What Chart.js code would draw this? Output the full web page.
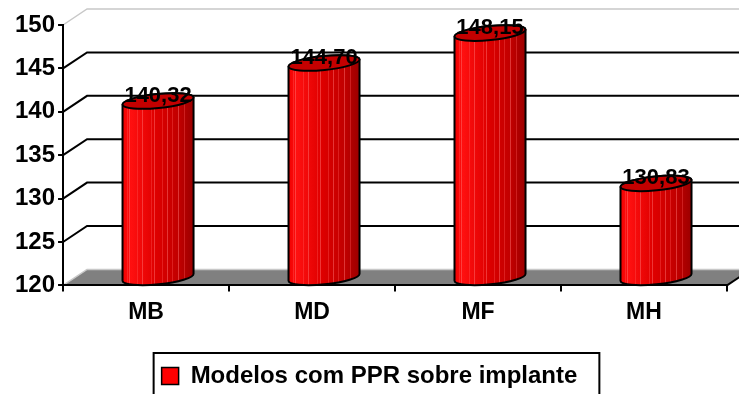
<!DOCTYPE html>
<html>
<head>
<meta charset="utf-8">
<script src="https://cdn.jsdelivr.net/npm/chart.js@4/dist/chart.umd.min.js"></script>
<style>
  html, body { margin: 0; padding: 0; background: #fff; }
  #wrap { width: 739px; height: 394px; position: relative; }
</style>
</head>
<body>
<div id="wrap"><canvas id="myChart"></canvas></div>
<script>
const categories = ['MB', 'MD', 'MF', 'MH'];
const seriesName = 'Modelos com PPR sobre implante';
const values = [140.32, 144.70, 148.15, 130.83];
const valueLabels = ['140,32', '144,70', '148,15', '130,83'];

const FONT = "'Liberation Sans', Arial, sans-serif";
const DX = 24;   // depth offset of the back wall
const DY = -16;

// back wall grid, floor and depth diagonals
const wallPlugin = {
  id: 'wall',
  beforeDraw(chart) {
    const { ctx, chartArea: a, scales } = chart;
    const y = scales.y;
    ctx.save();
    // floor
    ctx.fillStyle = '#808080';
    ctx.beginPath();
    ctx.moveTo(a.left, a.bottom);
    ctx.lineTo(a.right, a.bottom);
    ctx.lineTo(a.right + DX, a.bottom + DY);
    ctx.lineTo(a.left + DX, a.bottom + DY);
    ctx.closePath();
    ctx.fill();
    ctx.lineWidth = 2;
    ctx.strokeStyle = '#000';
    ctx.beginPath();
    ctx.moveTo(a.right, a.bottom);
    ctx.lineTo(a.right + DX, a.bottom + DY);
    ctx.stroke();

    y.ticks.forEach((t) => {
      const py = y.getPixelForValue(t.value);
      const edge = t.value === y.max || t.value === y.min;
      ctx.strokeStyle = edge ? '#c8c8c8' : '#000';
      ctx.lineWidth = edge ? 1.5 : 2;
      ctx.beginPath();
      ctx.moveTo(a.left, py);
      ctx.lineTo(a.left + DX, py + DY);
      ctx.lineTo(a.right + DX, py + DY);
      ctx.stroke();
    });
    ctx.restore();
  },
};

function cylinderPath(ctx, cx, topY, botY, rx, ry, rot) {
  const c = Math.cos(rot), s = Math.sin(rot);
  ctx.beginPath();
  ctx.moveTo(cx - rx * c, topY - rx * s);
  ctx.lineTo(cx - rx * c, botY - rx * s);
  ctx.ellipse(cx, botY, rx, ry, rot, Math.PI, 0, true);
  ctx.lineTo(cx + rx * c, topY + rx * s);
  ctx.ellipse(cx, topY, rx, ry, rot, 0, -Math.PI, true);
  ctx.closePath();
}

// red cylinders on top of the (transparent) bar elements
const cylinderPlugin = {
  id: 'cylinders',
  afterDatasetsDraw(chart) {
    const { ctx, scales } = chart;
    const meta = chart.getDatasetMeta(0);
    const basePx = scales.y.getPixelForValue(scales.y.min);
    const rot = -0.1;
    meta.data.forEach((bar, i) => {
      const cx = bar.x + DX / 2;
      const topY = bar.y + DY / 2;
      const botY = basePx + DY / 2;
      const rx = bar.width / 2;
      const ry = 7;
      ctx.save();
      const g = ctx.createLinearGradient(cx - rx, 0, cx + rx, 0);
      g.addColorStop(0, '#f00000');
      g.addColorStop(0.12, '#ff1010');
      g.addColorStop(0.45, '#e00000');
      g.addColorStop(0.8, '#c00000');
      g.addColorStop(1, '#9a0000');
      cylinderPath(ctx, cx, topY, botY, rx, ry, rot);
      ctx.fillStyle = g;
      ctx.fill();
      // vertical highlight stripes
      ctx.save();
      ctx.clip();
      const stripes = [0.06, 0.1, 0.2, 0.27, 0.4, 0.44, 0.55, 0.62, 0.7, 0.78, 0.86];
      ctx.lineWidth = 1;
      stripes.forEach((p, k) => {
        ctx.strokeStyle = k % 2 ? 'rgba(255,120,120,0.45)' : 'rgba(255,90,90,0.35)';
        const sx = Math.round(cx - rx + p * 2 * rx) + 0.5;
        ctx.beginPath();
        ctx.moveTo(sx, topY - 20);
        ctx.lineTo(sx, botY + 20);
        ctx.stroke();
      });
      ctx.restore();
      cylinderPath(ctx, cx, topY, botY, rx, ry, rot);
      ctx.lineWidth = 2;
      ctx.strokeStyle = '#000';
      ctx.stroke();
      // top cap
      ctx.beginPath();
      ctx.ellipse(cx, topY, rx, ry, rot, 0, Math.PI * 2);
      ctx.fillStyle = '#c40000';
      ctx.fill();
      ctx.stroke();
      // value label
      ctx.fillStyle = '#000';
      ctx.font = `bold 22px ${FONT}`;
      ctx.textAlign = 'center';
      ctx.textBaseline = 'alphabetic';
      ctx.fillText(valueLabels[i], cx, topY + 1);
      ctx.restore();
    });
  },
  afterDraw(chart) {
    // frame round the legend
    const lg = chart.legend;
    if (!lg || !lg.legendHitBoxes.length) return;
    const hb = lg.legendHitBoxes[0];
    const { ctx } = chart;
    ctx.save();
    ctx.strokeStyle = '#000';
    ctx.lineWidth = 2;
    ctx.strokeRect(hb.left - 8, hb.top - 11, hb.width + 30, hb.height + 40);
    ctx.restore();
  },
};

new Chart(document.getElementById('myChart').getContext('2d'), {
  type: 'bar',
  data: {
    labels: categories,
    datasets: [{
      label: seriesName,
      data: values,
      backgroundColor: 'rgba(0,0,0,0)',
      borderWidth: 0,
      barPercentage: 0.86,
      categoryPercentage: 0.5,
    }],
  },
  options: {
    responsive: true,
    maintainAspectRatio: false,
    animation: false,
    layout: { padding: { left: 12, right: 12, top: 25, bottom: -4 } },
    plugins: {
      tooltip: { enabled: false },
      legend: {
        position: 'bottom',
        labels: {
          color: '#000',
          font: { family: FONT, size: 24, weight: 'bold' },
          boxWidth: 17,
          boxHeight: 17,
          padding: 3,
          generateLabels: () => [{
            text: seriesName,
            fillStyle: '#ff0000',
            strokeStyle: '#000',
            lineWidth: 1.5,
            datasetIndex: 0,
          }],
        },
      },
    },
    scales: {
      x: {
        offset: true,
        afterFit: (scale) => { scale.height += 28; },
        grid: { display: true, drawOnChartArea: false, offset: true, tickLength: 6, color: '#000', lineWidth: 2 },
        border: { display: true, color: '#000', width: 2 },
        ticks: { color: '#000', padding: 7, font: { family: FONT, size: 23, weight: 'bold' } },
      },
      y: {
        min: 120,
        max: 150,
        grid: { display: true, drawOnChartArea: false, tickLength: 5, color: '#000', lineWidth: 2 },
        border: { display: true, color: '#000', width: 2 },
        ticks: { stepSize: 5, color: '#000', padding: 3, font: { family: FONT, size: 24, weight: 'bold' } },
      },
    },
  },
  plugins: [wallPlugin, cylinderPlugin],
});
</script>
</body>
</html>
